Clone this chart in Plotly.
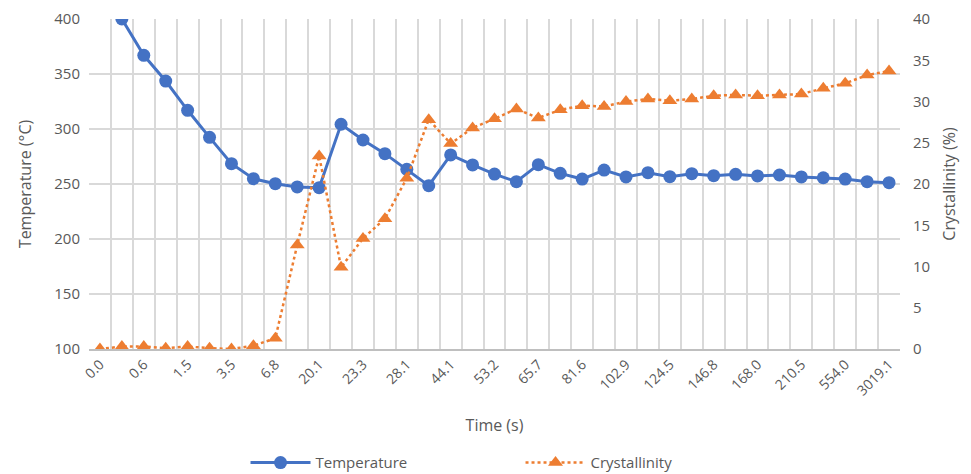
import plotly.graph_objects as go

# Category labels (only every other label is shown in the reference)
time_labels = ["0.0", "0.6", "1.5", "3.5", "6.8", "20.1", "23.3", "28.1", "44.1", "53.2",
               "65.7", "81.6", "102.9", "124.5", "146.8", "168.0", "210.5", "554.0", "3019.1"]
n_categories = 37

temperature = [None, 400, 367, 343.6, 317, 292.4, 268.5, 254.8, 250.3, 247.3,
               246.7, 304.3, 290, 277.6, 263.3, 248.5, 276.4, 267.3, 259, 252.1,
               267.6, 259.7, 254.5, 262.7, 256.4, 260.3, 256.7, 259.4, 257.6, 258.8,
               257.3, 258.2, 256.4, 255.7, 254.5, 252.1, 251.2]

crystallinity = [0.0, 0.3, 0.3, 0.1, 0.3, 0.1, 0.0, 0.4, 1.3, 12.6,
                 23.4, 9.9, 13.4, 15.8, 20.7, 27.8, 24.9, 26.8, 27.9, 29.1,
                 28.0, 29.0, 29.5, 29.4, 30.0, 30.3, 30.1, 30.3, 30.7, 30.8,
                 30.7, 30.8, 30.9, 31.6, 32.2, 33.2, 33.7]

x = list(range(n_categories))
tick_positions = x[::2]

FONT = "Open Sans"
GRAY = "#595959"
GRID = "#D9D9D9"

fig = go.Figure()
fig.add_trace(go.Scatter(
    x=x, y=temperature, name="Temperature", mode="lines+markers",
    line=dict(color="#4472C4", width=3),
    marker=dict(symbol="circle", size=13, color="#4472C4"),
    yaxis="y"))
fig.add_trace(go.Scatter(
    x=x, y=crystallinity, name="Crystallinity", mode="lines+markers",
    line=dict(color="#ED7D31", width=2.5, dash="dot"),
    marker=dict(symbol="triangle-up", size=13, color="#ED7D31"),
    yaxis="y2"))

fig.update_layout(
    width=971, height=474,
    margin=dict(l=89, r=71, t=19, b=125, autoexpand=False),
    paper_bgcolor="white", plot_bgcolor="white",
    font=dict(family=FONT, color=GRAY, size=14),
    xaxis=dict(
        range=[-0.5, n_categories - 0.5], automargin=False,
        tickmode="array", tickvals=tick_positions, ticktext=time_labels,
        tickangle=-45, showgrid=False, zeroline=False,
        showline=True, linecolor="#BFBFBF", linewidth=1.5,
        ticks="", tickfont=dict(size=14, color=GRAY),
        minor=dict(tickmode="array",
                   tickvals=[i - 0.5 for i in range(n_categories + 1)],
                   showgrid=True, gridcolor=GRID, gridwidth=1.5, ticks=""),
        title=dict(text="Time (s)", font=dict(size=16, color=GRAY), standoff=22),
    ),
    yaxis=dict(
        range=[100, 400], dtick=50, showgrid=True, gridcolor=GRID, gridwidth=1.5,
        zeroline=False, showline=False, ticks="", automargin=False,
        tickfont=dict(size=15, color=GRAY), ticklabelstandoff=8,
        title=dict(text="Temperature (°C)", font=dict(size=16, color=GRAY), standoff=18),
    ),
    yaxis2=dict(
        range=[0, 40], dtick=5, overlaying="y", side="right",
        showgrid=False, zeroline=False, showline=False, ticks="", automargin=False,
        tickfont=dict(size=15, color=GRAY), ticklabelstandoff=12,
        title=dict(text="Crystallinity (%)", font=dict(size=16, color=GRAY), standoff=14),
    ),
    legend=dict(orientation="h", x=0.193, xanchor="left", y=-0.345, yanchor="middle",
                font=dict(size=15, color=GRAY), entrywidth=200, itemwidth=60),
    showlegend=True,
)

fig.write_html("out.html")
